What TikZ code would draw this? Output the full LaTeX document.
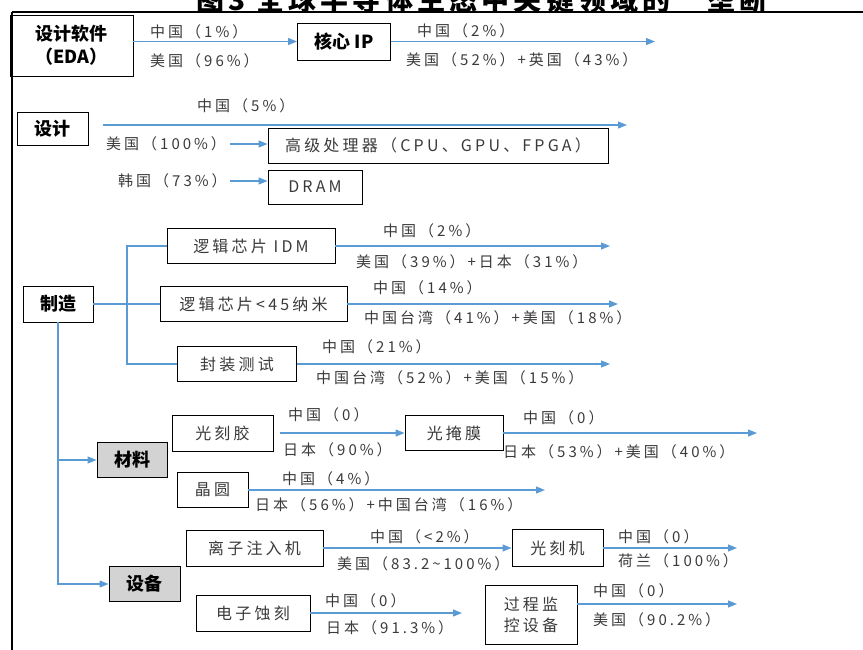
\documentclass[tikz,border=0pt]{standalone}
\usepackage{fontspec}
\setmainfont{Noto Sans CJK SC}
\newfontfamily\cjkesp[LetterSpace=20]{Noto Sans CJK SC}
\usetikzlibrary{arrows.meta}

\definecolor{couleurfleche}{HTML}{5B9BD5}
\definecolor{couleurtexte}{HTML}{3A3A3A}
\definecolor{couleurgris}{HTML}{D3D3D3}
\newcommand{\fleche}[2]{\draw[flechebleue] (#1) -- (#2);}
\newcommand{\trait}[2]{\draw[lienbleu] (#1) -- (#2);}
\tikzset{
	boite/.style={draw, line width=0.9pt, inner sep=0pt, align=center, text=couleurtexte, font=\cjkesp\fontsize{16}{21}\selectfont},
	entete/.style={boite, text=black, font=\bfseries\fontsize{18}{23}\selectfont},
	grise/.style={entete, fill=couleurgris},
	etiq/.style={anchor=west, inner sep=0pt, text=couleurtexte, font=\cjkesp\fontsize{15}{17}\selectfont},
	lienbleu/.style={draw=couleurfleche, line width=1.2pt},
	flechebleue/.style={lienbleu, -{Triangle[length=9pt,width=7pt]}}
}

\begin{document}
\begin{tikzpicture}[x=1pt, y=-1pt]
	\useasboundingbox (0,0) rectangle (863,649);
	% cadre et titre
	\node[anchor=base, inner sep=0pt, font=\bfseries\fontsize{28}{30}\selectfont\addfontfeature{LetterSpace=15}] (titre) at (498,10) {图3\ 全球半导体生态中关键领域的“垄断”};
	\draw[line width=1.2pt] (863,12) -- (11.5,12);
	\draw[line width=2pt] (11.5,12) -- (11.5,652);
	
	% 1re ligne : logiciels
	\node[entete, minimum width=123pt, minimum height=61pt] (edasoft) at (71.5,45.5) {设计软件\\（EDA）};
	\node[entete, minimum width=93pt, minimum height=37pt] (coreip) at (344,41.5) {核心 IP};
	\coordinate (finip) at (655,41.5);
	\fleche{edasoft.east |- coreip.west}{coreip.west}
	\fleche{coreip.east}{finip}
	\node[etiq] (edachn) at (150,32) {中国（1\%）};
	\node[etiq] (edausa) at (150,61) {美国（96\%）};
	\node[etiq] (ipchn) at (417,31) {中国（2\%）};
	\node[etiq] (ipusa) at (406,60) {美国（52\%）+英国（43\%）};
	
	% 2me ligne : conception
	\node[entete, minimum width=71pt, minimum height=33pt] (design) at (52.5,129) {设计};
	\coordinate (dsgdeb) at (103,125);
	\coordinate (dsgfin) at (627,125);
	\fleche{dsgdeb}{dsgfin}
	\node[etiq] (dsgchn) at (197,106) {中国（5\%）};
	\node[etiq] (dsgusa) at (106,144) {美国（100\%）};
	\node[etiq] (dsgkor) at (118,181) {韩国（73\%）};
	\node[boite, minimum width=340pt, minimum height=35pt] (cpu) at (438,145.5) {高级处理器（CPU、GPU、FPGA）};
	\node[boite, minimum width=94pt, minimum height=34pt] (dram) at (315,187) {DRAM};
	\coordinate (usadeb) at (230,144);
	\coordinate (kordeb) at (230,181);
	\fleche{usadeb}{usadeb -| cpu.west}
	\fleche{kordeb}{kordeb -| dram.west}
	
	% 3me ligne : fabrication
	\node[entete, minimum width=70pt, minimum height=36pt] (manufac) at (58,304) {制造};
	\coordinate (fourche) at (127,304);
	\node[boite, minimum width=168pt, minimum height=35pt] (logiidm) at (251,246) {逻辑芯片 IDM};
	\node[boite, minimum width=187pt, minimum height=35pt] (logi45) at (253.5,304) {逻辑芯片<45纳米};
	\node[boite, minimum width=119pt, minimum height=35pt] (packtest) at (237,364) {封装测试};
	\trait{manufac.east}{logi45.west}
	\draw[lienbleu] (logiidm.west) -| (fourche) |- (packtest.west);
	\coordinate (finidm) at (610,246);
	\coordinate (fin45) at (618,304);
	\coordinate (finpack) at (610,364);
	\fleche{logiidm.east}{finidm}
	\fleche{logi45.east}{fin45}
	\fleche{packtest.east}{finpack}
	\node[etiq] (idmchn) at (383,231) {中国（2\%）};
	\node[etiq] (idmusa) at (356,262) {美国（39\%）+日本（31\%）};
	\node[etiq] (nmchn) at (373,288) {中国（14\%）};
	\node[etiq] (nmtwn) at (364,318) {中国台湾（41\%）+美国（18\%）};
	\node[etiq] (pkchn) at (322,347) {中国（21\%）};
	\node[etiq] (pktwn) at (316,378) {中国台湾（52\%）+美国（15\%）};
	
	% 4me ligne : materiaux
	\node[grise, minimum width=70pt, minimum height=35pt] (material) at (132,460) {材料};
	\node[grise, minimum width=71pt, minimum height=35pt] (equipmt) at (144.5,584) {设备};
	\draw[flechebleue] (manufac.south) |- (material.west);
	\draw[flechebleue] (manufac.south) |- (equipmt.west);
	\node[boite, minimum width=101pt, minimum height=36pt] (photores) at (222.5,433) {光刻胶};
	\node[boite, minimum width=98pt, minimum height=35pt] (photomsk) at (454,433) {光掩膜};
	\node[boite, minimum width=71pt, minimum height=35pt] (wafer) at (212.5,490) {晶圆};
	\coordinate (resdeb) at (280,433);
	\coordinate (finmsk) at (757,433);
	\coordinate (finwaf) at (545,490);
	\fleche{resdeb}{photomsk.west}
	\fleche{photomsk.east}{finmsk}
	\fleche{wafer.east}{finwaf}
	\node[etiq] (reschn) at (288,415) {中国（0）};
	\node[etiq] (resjpn) at (283,450) {日本（90\%）};
	\node[etiq] (mskchn) at (523,418) {中国（0）};
	\node[etiq] (mskjpn) at (503,452) {日本（53\%）+美国（40\%）};
	\node[etiq] (wafchn) at (282,479) {中国（4\%）};
	\node[etiq] (wafjpn) at (255,505) {日本（56\%）+中国台湾（16\%）};
	
	% 5me ligne : equipements
	\node[boite, minimum width=137pt, minimum height=36pt] (ionimpl) at (254.5,548) {离子注入机};
	\node[boite, minimum width=91pt, minimum height=37pt] (lithomac) at (557.5,548) {光刻机};
	\node[boite, minimum width=114pt, minimum height=36pt] (etching) at (253,613) {电子蚀刻};
	\node[boite, minimum width=92pt, minimum height=59pt] (procmon) at (531,614.5) {过程监\\控设备};
	\coordinate (finlitho) at (737,548);
	\coordinate (finetch) at (462,613);
	\coordinate (finmon) at (737,604);
	\fleche{ionimpl.east}{lithomac.west}
	\fleche{lithomac.east}{finlitho}
	\fleche{etching.east}{finetch}
	\fleche{procmon.east |- finmon}{finmon}
	\node[etiq] (ionchn) at (370,537) {中国（<2\%）};
	\node[etiq] (ionusa) at (337,564) {美国（83.2\textasciitilde100\%）};
	\node[etiq] (litchn) at (618,537) {中国（0）};
	\node[etiq] (litnld) at (618,561) {荷兰（100\%）};
	\node[etiq] (etcchn) at (325,601) {中国（0）};
	\node[etiq] (etcjpn) at (326,628) {日本（91.3\%）};
	\node[etiq] (monchn) at (593,591) {中国（0）};
	\node[etiq] (monusa) at (593,620) {美国（90.2\%）};
\end{tikzpicture}
\end{document}
